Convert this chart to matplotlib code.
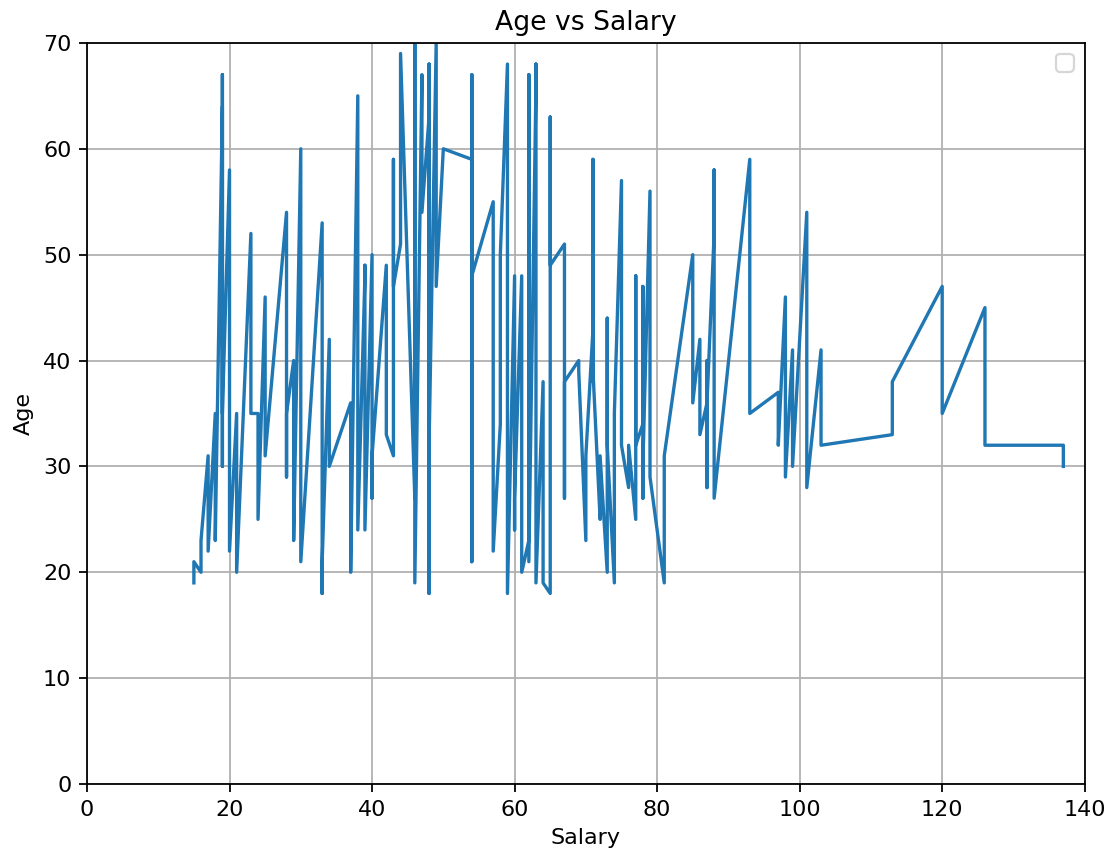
import numpy as np
import matplotlib
matplotlib.use("Agg")
import matplotlib.pyplot as plt

# annual income (k$) per customer, in file order
salary = [15, 15, 16, 16, 17, 17, 18, 18, 19, 19, 19, 19, 20, 20, 20, 20, 21, 21, 23, 23,
          24, 24, 25, 25, 28, 28, 28, 28, 29, 29, 30, 30, 33, 33, 33, 33, 34, 34, 37, 37,
          38, 38, 39, 39, 39, 39, 40, 40, 40, 40, 42, 42, 43, 43, 43, 43, 44, 44, 46, 46,
          46, 46, 47, 47, 48, 48, 48, 48, 48, 48, 49, 49, 50, 50, 54, 54, 54, 54, 54, 54,
          54, 54, 54, 54, 54, 54, 57, 57, 58, 58, 59, 59, 60, 60, 60, 60, 60, 60, 61, 61,
          62, 62, 62, 62, 62, 62, 63, 63, 63, 63, 63, 63, 64, 64, 65, 65, 65, 65, 67, 67,
          67, 67, 69, 69, 70, 70, 71, 71, 71, 71, 71, 71, 72, 72, 73, 73, 73, 73, 74, 74,
          75, 75, 76, 76, 77, 77, 77, 77, 78, 78, 78, 78, 78, 78, 78, 78, 78, 78, 78, 78,
          79, 79, 81, 81, 85, 85, 86, 86, 87, 87, 87, 87, 87, 87, 88, 88, 88, 88, 93, 93,
          97, 97, 98, 98, 99, 99, 101, 101, 103, 103, 103, 103, 113, 113, 120, 120, 126, 126, 137, 137]

age = [19, 21, 20, 23, 31, 22, 35, 23, 64, 30, 67, 35, 58, 24, 37, 22, 35, 20, 52, 35,
       35, 25, 46, 31, 54, 29, 45, 35, 40, 23, 60, 21, 53, 18, 49, 21, 42, 30, 36, 20,
       65, 24, 48, 31, 49, 24, 50, 27, 29, 31, 49, 33, 31, 59, 50, 47, 51, 69, 27, 53,
       70, 19, 67, 54, 63, 18, 43, 68, 19, 32, 70, 47, 60, 60, 59, 26, 45, 40, 23, 49,
       57, 38, 67, 46, 21, 48, 55, 22, 34, 50, 68, 18, 48, 40, 32, 24, 47, 27, 48, 20,
       23, 49, 67, 26, 49, 21, 66, 54, 68, 66, 65, 19, 38, 19, 18, 19, 63, 49, 51, 50,
       27, 38, 40, 39, 23, 31, 43, 40, 59, 38, 47, 39, 25, 31, 20, 29, 44, 32, 19, 35,
       57, 32, 28, 32, 25, 28, 48, 32, 34, 34, 43, 39, 44, 38, 47, 27, 37, 30, 34, 30,
       56, 29, 19, 31, 50, 36, 42, 33, 36, 32, 40, 28, 36, 36, 52, 30, 58, 27, 59, 35,
       37, 32, 46, 29, 41, 30, 54, 28, 41, 36, 34, 32, 33, 38, 47, 35, 45, 32, 32, 30]

dpi = 160
fig = plt.figure(figsize=(1108 / dpi, 858 / dpi), dpi=dpi)
ax = fig.add_axes([0.0785, 0.0862, 0.9005, 0.8638])

ax.plot(salary, age)
ax.set_xlim(0, 140)
ax.set_ylim(0, 70)
ax.set_title("Age vs Salary")
ax.set_xlabel("Salary")
ax.set_ylabel("Age")
ax.grid(True)
ax.legend()

fig.savefig("out.png", dpi=dpi)
